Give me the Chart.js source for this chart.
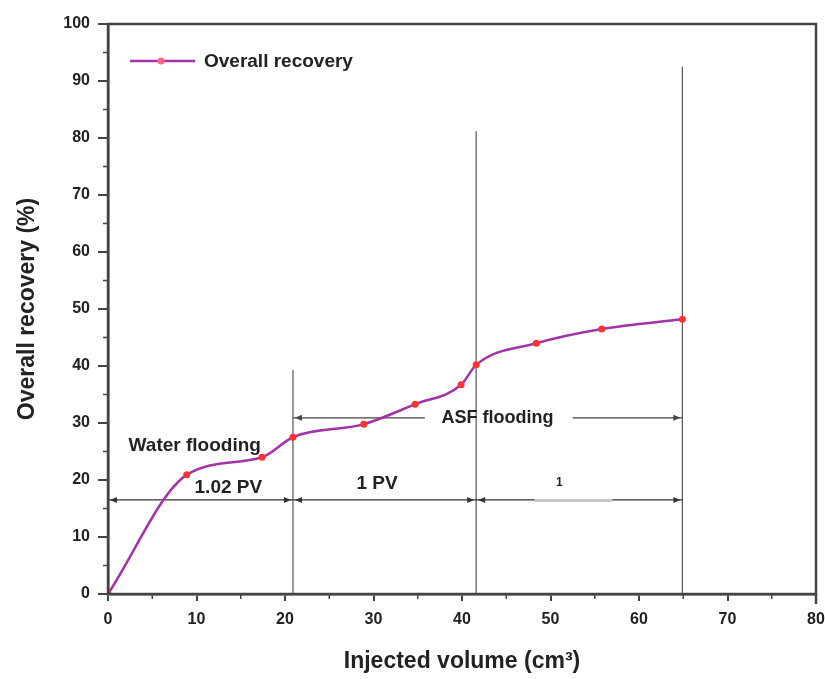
<!DOCTYPE html>
<html>
<head>
<meta charset="utf-8">
<script src="https://cdn.jsdelivr.net/npm/chart.js@4.4.1/dist/chart.umd.min.js"></script>
<style>
  html, body { margin: 0; padding: 0; background: #fff; }
  #wrap { width: 825px; height: 679px; position: relative; }
</style>
</head>
<body>
<div id="wrap"><canvas id="chart"></canvas></div>
<script>
// data
var injectedVolume = [0, 8.9, 17.4, 20.9, 28.9, 34.7, 39.9, 41.6, 48.4, 55.8, 64.9];
var overallRecovery = [0, 20.9, 24.0, 27.5, 29.8, 33.3, 36.7, 40.2, 44.0, 46.5, 48.2];
var xTicks = [0, 10, 20, 30, 40, 50, 60, 70, 80];
var yTicks = [0, 10, 20, 30, 40, 50, 60, 70, 80, 90, 100];

// stage boundaries (x) and how high each marker line reaches (y)
var stageX = [20.9, 41.6, 64.9];
var stageTop = [39.3, 81.2, 92.5];
var pvArrowY = 16.5;
var pvLabels = ['1.02 PV', '1 PV', '1'];
var pvLabelPos = [[13.6, 18.6], [30.4, 19.3], [51, 19.5]];
var asfArrowY = 30.9;
var asfLabel = 'ASF flooding';
var asfLabelX = 44;
var waterLabel = 'Water flooding';
var waterLabelPos = [9.8, 26];

var FONT = '"Liberation Sans", Arial, sans-serif';
var AXIS = '#444';
var LINE = '#a233a8';
var MARK = '#ff3333';

function arrowHead(ctx, x, y, dir) {
  ctx.beginPath();
  ctx.moveTo(x, y);
  ctx.lineTo(x - dir * 7, y - 3);
  ctx.lineTo(x - dir * 7, y + 3);
  ctx.closePath();
  ctx.fill();
}

var annotations = {
  id: 'annotations',
  beforeDatasetsDraw: function (chart) {
    var ctx = chart.ctx, xs = chart.scales.x, ys = chart.scales.y;
    var a = chart.chartArea;
    ctx.save();
    // stage lines
    ctx.strokeStyle = '#555';
    ctx.lineWidth = 1.2;
    stageX.forEach(function (v, i) {
      var px = xs.getPixelForValue(v);
      ctx.beginPath();
      ctx.moveTo(px, ys.getPixelForValue(stageTop[i]));
      ctx.lineTo(px, a.bottom);
      ctx.stroke();
    });
    // PV arrows
    var py = ys.getPixelForValue(pvArrowY);
    var bounds = [0].concat(stageX);
    ctx.strokeStyle = '#333';
    ctx.fillStyle = '#333';
    ctx.lineWidth = 1.2;
    for (var i = 0; i < 3; i++) {
      var x0 = xs.getPixelForValue(bounds[i]), x1 = xs.getPixelForValue(bounds[i + 1]);
      ctx.beginPath();
      ctx.moveTo(x0, py);
      ctx.lineTo(x1, py);
      ctx.stroke();
      arrowHead(ctx, x0 + 2, py, -1);
      arrowHead(ctx, x1 - 2, py, 1);
    }
    // faint bar under the third label
    ctx.strokeStyle = '#c8c8c8';
    ctx.lineWidth = 3;
    ctx.beginPath();
    ctx.moveTo(xs.getPixelForValue(48.2), py + 0.5);
    ctx.lineTo(xs.getPixelForValue(57), py + 0.5);
    ctx.stroke();
    // ASF arrow with a gap for text
    var ay = ys.getPixelForValue(asfArrowY);
    ctx.strokeStyle = '#444';
    ctx.fillStyle = '#444';
    ctx.lineWidth = 1.2;
    ctx.beginPath();
    ctx.moveTo(xs.getPixelForValue(stageX[0]), ay);
    ctx.lineTo(xs.getPixelForValue(35.8), ay);
    ctx.moveTo(xs.getPixelForValue(52.5), ay);
    ctx.lineTo(xs.getPixelForValue(stageX[2]), ay);
    ctx.stroke();
    arrowHead(ctx, xs.getPixelForValue(stageX[0]) + 2, ay, -1);
    arrowHead(ctx, xs.getPixelForValue(stageX[2]) - 2, ay, 1);

    // labels
    ctx.fillStyle = '#222';
    ctx.textAlign = 'center';
    ctx.textBaseline = 'middle';
    ctx.font = 'bold 19px ' + FONT;
    ctx.fillText(waterLabel, xs.getPixelForValue(waterLabelPos[0]), ys.getPixelForValue(waterLabelPos[1]));
    ctx.font = 'bold 18px ' + FONT;
    ctx.fillText(asfLabel, xs.getPixelForValue(asfLabelX), ay);
    pvLabels.forEach(function (t, i) {
      ctx.font = (i === 2 ? 'bold 12px ' : 'bold 19px ') + FONT;
      ctx.fillText(t, xs.getPixelForValue(pvLabelPos[i][0]), ys.getPixelForValue(pvLabelPos[i][1]));
    });
    ctx.restore();
  },
  afterDraw: function (chart) {
    var ctx = chart.ctx, xs = chart.scales.x, ys = chart.scales.y;
    var a = chart.chartArea;
    ctx.save();
    // frame
    ctx.strokeStyle = AXIS;
    ctx.lineWidth = 2.5;
    ctx.strokeRect(a.left, a.top, a.right - a.left, a.bottom - a.top);
    ctx.beginPath();
    ctx.moveTo(a.right, a.bottom);
    ctx.lineTo(a.right, a.bottom + 10);
    ctx.stroke();
    // minor ticks
    ctx.lineWidth = 1.5;
    ctx.beginPath();
    for (var v = 5; v < 100; v += 10) {
      var p = ys.getPixelForValue(v);
      ctx.moveTo(a.left - 5, p);
      ctx.lineTo(a.left, p);
    }
    for (var u = 5; u < 80; u += 10) {
      var q = xs.getPixelForValue(u);
      ctx.moveTo(q, a.bottom);
      ctx.lineTo(q, a.bottom + 5);
    }
    ctx.stroke();
    // legend
    var lx = 130, ly = 61;
    ctx.strokeStyle = LINE;
    ctx.lineWidth = 2.5;
    ctx.beginPath();
    ctx.moveTo(lx, ly);
    ctx.lineTo(lx + 65, ly);
    ctx.stroke();
    ctx.fillStyle = '#ff6680';
    ctx.beginPath();
    ctx.arc(lx + 31, ly, 3.5, 0, Math.PI * 2);
    ctx.fill();
    ctx.fillStyle = '#222';
    ctx.font = 'bold 19px ' + FONT;
    ctx.textAlign = 'left';
    ctx.textBaseline = 'middle';
    ctx.fillText(chart.data.datasets[0].label, lx + 74, ly + 1);
    ctx.restore();
  }
};

var points = injectedVolume.map(function (x, i) { return { x: x, y: overallRecovery[i] }; });

new Chart(document.getElementById('chart'), {
  type: 'scatter',
  data: {
    datasets: [{
      label: 'Overall recovery',
      data: points,
      showLine: true,
      borderColor: LINE,
      borderWidth: 2.5,
      cubicInterpolationMode: 'monotone',
      pointRadius: 3.5,
      pointBackgroundColor: MARK,
      pointBorderColor: MARK,
      pointBorderWidth: 0
    }]
  },
  options: {
    responsive: true,
    maintainAspectRatio: false,
    animation: false,
    layout: { padding: { top: 24, right: 9, left: 0, bottom: 0 } },
    plugins: { legend: { display: false }, tooltip: { enabled: false } },
    scales: {
      x: {
        type: 'linear',
        min: 0, max: 80,
        afterBuildTicks: function (s) { s.ticks = xTicks.map(function (v) { return { value: v }; }); },
        afterFit: function (s) { s.height = 85; s.paddingRight = 9; s.paddingLeft = 0; },
        ticks: { color: '#222', padding: 9, font: { family: FONT, size: 16, weight: 'bold' } },
        grid: { drawOnChartArea: false, drawTicks: true, tickLength: 7, color: AXIS, lineWidth: 2 },
        border: { color: AXIS, width: 2.5 },
        title: {
          display: true,
          text: 'Injected volume (cm³)',
          color: '#222',
          font: { family: FONT, size: 23, weight: 'bold' },
          padding: { top: 0, bottom: 4 }
        }
      },
      y: {
        min: 0, max: 100,
        afterBuildTicks: function (s) { s.ticks = yTicks.map(function (v) { return { value: v }; }); },
        afterFit: function (s) { s.width = 108; },
        ticks: { color: '#222', padding: 8, font: { family: FONT, size: 16, weight: 'bold' } },
        grid: { drawOnChartArea: false, drawTicks: true, tickLength: 10, color: AXIS, lineWidth: 2 },
        border: { color: AXIS, width: 2.5 },
        title: {
          display: true,
          text: 'Overall recovery (%)',
          color: '#222',
          font: { family: FONT, size: 23, weight: 'bold' },
          padding: { top: 14, bottom: 4 }
        }
      }
    }
  },
  plugins: [annotations]
});
</script>
</body>
</html>
